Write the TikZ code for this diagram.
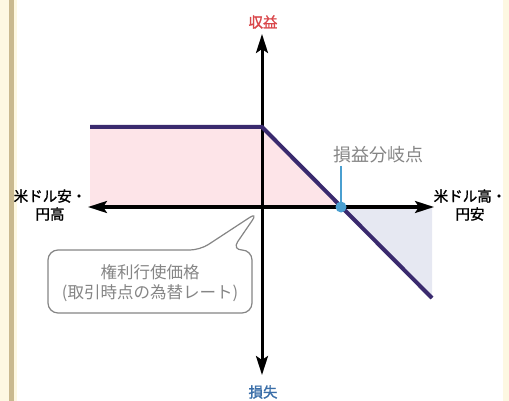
\documentclass[tikz,border=0pt]{standalone}
\usepackage{fontspec}
\newfontfamily\jp{Noto Sans CJK JP}
\newfontfamily\jpb[FakeBold=1.4]{Noto Sans CJK JP}
\usetikzlibrary{arrows.meta}
\definecolor{payoff}{HTML}{3A2A6E}
\definecolor{pinkfill}{HTML}{FDE4E8}
\definecolor{bluefill}{HTML}{E6E8F2}
\definecolor{bepoint}{HTML}{4A9FD0}
\definecolor{gainred}{HTML}{D9464A}
\definecolor{lossblue}{HTML}{3A6EA8}
\definecolor{cream}{HTML}{FDF8E2}
\definecolor{tan}{HTML}{C9B98F}
\definecolor{calloutgray}{HTML}{858585}
\tikzset{
  axis/.style={line width=3pt, black, {Stealth[length=19pt,width=12pt,inset=4pt]}-{Stealth[length=19pt,width=12pt,inset=4pt]}},
  axlabel/.style={font=\jpb\fontsize{14.5}{18}\selectfont, align=center, inner sep=0pt},
  payline/.style={line width=4pt, payoff, line cap=butt, line join=miter},
  callout/.style={draw=calloutgray, line width=1.2pt, fill=white, rounded corners=10pt},
  callouttext/.style={font=\jp\fontsize{16.5}{20}\selectfont, text=calloutgray, align=center, inner sep=0pt}
}
\begin{document}
\begin{tikzpicture}[x=1pt,y=-1pt]
\useasboundingbox (0,0) rectangle (509,401);
% border
\fill[cream] (0,0) rectangle (17,401);
\fill[tan] (9,0) rectangle (14,401);
\fill[cream] (503,0) rectangle (509,401);
% coordinates
\coordinate (O) at (262,207);
\coordinate (K) at (262,127);
\coordinate (L) at (90,127);
\coordinate (BE) at (341,207);
\coordinate (E) at (432,298);
\coordinate (ER) at (432,207);
\coordinate (XL) at (88,207);
\coordinate (XR) at (434,207);
\coordinate (YT) at (262,34);
\coordinate (YB) at (262,375);
% fills
\fill[pinkfill] (L) -- (K) -- (BE) -- (90,207) -- cycle;
\fill[bluefill] (BE) -- (ER) -- (E) -- cycle;
% axes
\draw[axis] (XL) -- (XR);
\draw[axis] (YB) -- (YT);
% payoff line
\draw[payline] (L) -- (K) -- (E);
% break-even label
\node[font=\jp\fontsize{18}{20}\selectfont, text=calloutgray, inner sep=0pt] (belabel) at (378,155) {損益分岐点};
\draw[bepoint, line width=1.2pt] (341,166) -- (BE);
\node[circle, fill=bepoint, minimum size=11pt, inner sep=0pt] (bept) at (BE) {};
% axis labels
\node[axlabel, text=gainred] (gain) at (263,22) {収益};
\node[axlabel, text=lossblue] (loss) at (263,392) {損失};
\node[axlabel] (left) at (50,205) {米ドル安・\\円高};
\node[axlabel] (right) at (470,205) {米ドル高・\\円安};
% callout
\draw[callout] (200,250) -- (258,212) -- (232,250) -- (252,250) -- (252,313) -- (48,313) -- (48,250) -- cycle;
\node[callouttext] (strike) at (150,283) {権利行使価格\\(取引時点の為替レート)};
\end{tikzpicture}
\end{document}
